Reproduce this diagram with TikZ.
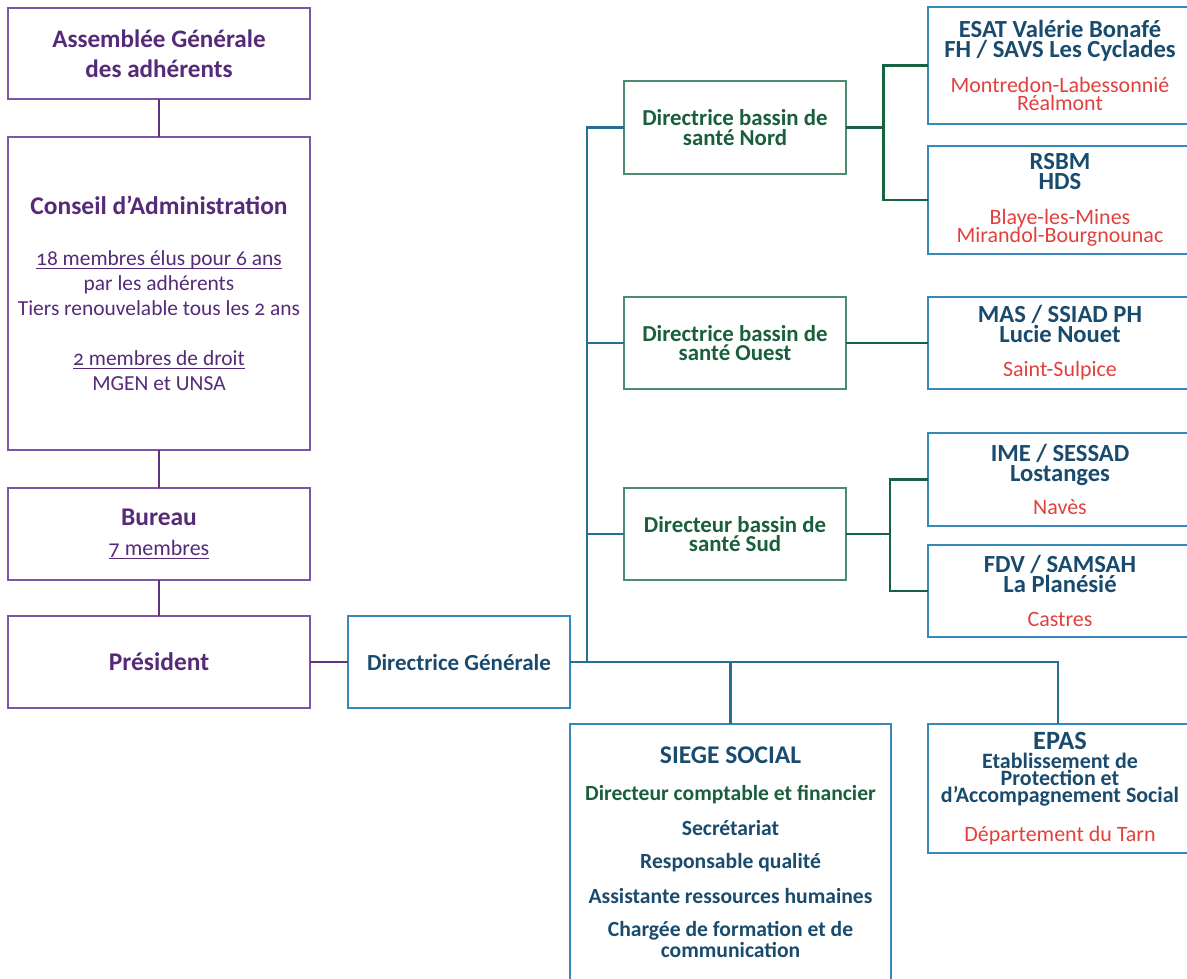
\documentclass[tikz,border=0pt]{standalone}
\usepackage{fontspec}
\setmainfont{Carlito}[Numbers=OldStyle]

\definecolor{govborder}{RGB}{125,85,165}
\definecolor{govtext}{RGB}{85,42,120}
\definecolor{govline}{RGB}{95,50,130}
\definecolor{dirborder}{RGB}{55,135,185}
\definecolor{dirtext}{RGB}{25,75,110}
\definecolor{trunk}{RGB}{40,110,145}
\definecolor{basborder}{RGB}{75,140,110}
\definecolor{bastext}{RGB}{25,95,60}
\definecolor{basline}{RGB}{20,100,65}
\definecolor{town}{RGB}{225,65,60}

% underline just below the baseline
\newcommand{\ulin}[1]{\setbox0\hbox{#1}\rlap{\rule[-1.6pt]{\wd0}{0.5pt}}\box0}
\newcommand{\town}[1]{{\fontsize{12.5}{11.3}\selectfont\mdseries\color{town}#1}}

\begin{document}
\begin{tikzpicture}[x=0.02cm, y=-0.02cm]
    \tikzstyle{gov} = [rectangle, draw=govborder, line width=0.8pt, text=govtext, minimum width=6.04cm, inner sep=0pt, outer sep=0pt, align=center]
    \tikzstyle{dir} = [rectangle, draw=dirborder, line width=0.8pt, text=dirtext, inner sep=0pt, outer sep=0pt, align=center]
    \tikzstyle{bassin} = [rectangle, draw=basborder, line width=0.8pt, text=bastext, minimum width=4.44cm, minimum height=1.84cm, inner sep=0pt, outer sep=0pt, align=center, font=\fontsize{13}{11}\selectfont\bfseries]
    \tikzstyle{etab} = [dir, minimum width=5.28cm, font=\fontsize{14}{11.3}\selectfont\bfseries]
    \tikzstyle{govline} = [draw=govline, line width=1.2pt]
    \tikzstyle{trunkline} = [draw=trunk, line width=1.2pt]
    \tikzstyle{basline} = [draw=basline, line width=1.4pt]

    \clip (0,0) rectangle (1187,978);

    % gouvernance
    \node [gov, minimum height=1.82cm, font=\fontsize{14.3}{17}\selectfont\bfseries] (ag) at (159,53.5) {Assemblée Générale\\des adhérents};
    \node [gov, minimum height=6.26cm, font=\fontsize{12.2}{14.2}\selectfont] (ca) at (159,293.5)
        {{\fontsize{14.5}{14.2}\selectfont\bfseries Conseil d’Administration}\\[15pt]
         \ulin{18 membres élus pour 6 ans}\\par les adhérents\\Tiers renouvelable tous les 2 ans\\[14.2pt]
         \ulin{2 membres de droit}\\MGEN et UNSA};
    \node [gov, minimum height=1.84cm, font=\fontsize{12.5}{17}\selectfont] (bureau) at (159,534)
        {{\fontsize{14.5}{17}\selectfont\bfseries Bureau}\\\ulin{7 membres}};
    \node [gov, minimum height=1.84cm, font=\fontsize{14.5}{17}\selectfont\bfseries] (pres) at (159,662) {Président};

    % direction
    \node [dir, minimum width=4.44cm, minimum height=1.84cm, font=\fontsize{13.1}{15}\selectfont\bfseries] (dg) at (459,662) {Directrice Générale};

    \node [bassin, minimum height=1.86cm] (nord) at (735,127.5) {Directrice bassin de\\santé Nord};
    \node [bassin] (ouest) at (735,343) {Directrice bassin de\\santé Ouest};
    \node [bassin] (sud) at (735,534) {Directeur bassin de\\santé Sud};

    % etablissements
    \node [etab, minimum height=2.34cm] (esat) at (1060,65.5)
        {ESAT Valérie Bonafé\\FH / SAVS Les Cyclades\\[8.5pt]\town{Montredon-Labessonnié}\\[-0.8pt]\town{Réalmont}};
    \node [etab, minimum height=2.16cm] (rsbm) at (1060,200)
        {RSBM\\HDS\\[8.5pt]\town{Blaye-les-Mines}\\[-0.8pt]\town{Mirandol-Bourgnounac}};
    \node [etab, minimum height=1.84cm] (mas) at (1060,343)
        {MAS / SSIAD PH\\Lucie Nouet\\[8pt]\town{Saint-Sulpice}};
    \node [etab, minimum height=1.86cm] (ime) at (1060,479.5)
        {IME / SESSAD\\Lostanges\\[8pt]\town{Navès}};
    \node [etab, minimum height=1.84cm] (fdv) at (1060,591)
        {FDV / SAMSAH\\La Planésié\\[8pt]\town{Castres}};
    \node [etab, minimum height=2.58cm, font=\fontsize{12.5}{9.8}\selectfont\bfseries] (epas) at (1060,788.5)
        {{\fontsize{15}{9.8}\selectfont EPAS}\\[1pt]Etablissement de\\Protection et\\d’Accompagnement Social\\[10pt]\town{Département du Tarn}};

    \node [dir, minimum width=6.42cm, minimum height=5.12cm, font=\fontsize{12.3}{10.3}\selectfont\bfseries] (siege) at (730.5,852)
        {{\fontsize{14.5}{10.3}\selectfont SIEGE SOCIAL}\\[11pt]
         {\color{bastext}Directeur comptable et financier}\\[8.4pt]
         Secrétariat\\[8.4pt]Responsable qualité\\[8.4pt]Assistante ressources humaines\\[8.4pt]
         Chargée de formation et de\\communication};

    \coordinate (hub) at (587,662);
    \coordinate (epasin) at (1058,724);
    \coordinate (nordfork) at (883.5,127.5);
    \coordinate (sudfork) at (890,534);

    % liens
    \draw [govline] (ag) -- (ca);
    \draw [govline] (ca) -- (bureau);
    \draw [govline] (bureau) -- (pres);
    \draw [govline] (pres) -- (dg);

    \draw [trunkline] (dg.east) -| (epasin);
    \draw [trunkline] (dg.east) -| (siege.north);
    \draw [trunkline] (hub) |- (nord.west);
    \draw [trunkline] (hub) |- (ouest.west);
    \draw [trunkline] (hub) |- (sud.west);

    \draw [basline] (nord.east) -- (nordfork);
    \draw [basline] (nordfork) |- (esat.west);
    \draw [basline] (nordfork) |- (rsbm.west);
    \draw [basline] (ouest) -- (mas);
    \draw [basline] (sud.east) -- (sudfork);
    \draw [basline] (sudfork) |- (ime.west);
    \draw [basline] (sudfork) |- (fdv.west);
\end{tikzpicture}
\end{document}
